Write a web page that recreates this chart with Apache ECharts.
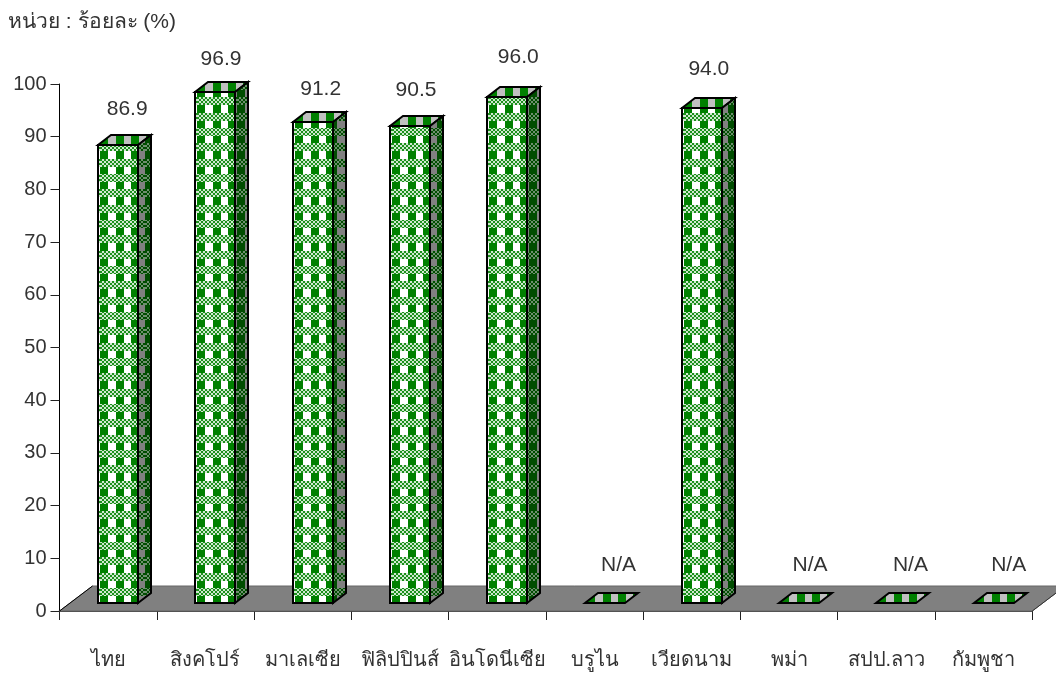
<!DOCTYPE html>
<html><head><meta charset="utf-8">
<style>html,body{margin:0;padding:0;background:#fff}#c{width:1056px;height:673px}</style>
<script src="https://cdn.jsdelivr.net/npm/echarts@6/dist/echarts.min.js"></script>
</head><body><div id="c"></div>
<script>
const categories = ['ไทย','สิงคโปร์','มาเลเซีย','ฟิลิปปินส์','อินโดนีเซีย','บรูไน','เวียดนาม','พม่า','สปป.ลาว','กัมพูชา'];
const values = [86.9, 96.9, 91.2, 90.5, 96.0, null, 94.0, null, null, null];
const unitText = 'หน่วย : ร้อยละ (%)';
const yTicks = {min:0,max:100,interval:10};

const FONT = '"Liberation Sans", Arial, sans-serif';
// label placement relative to bar
const labelDx = [19,15.6,18,16,21,24,17,21,24,25];
const labelLift = [26,23,23,26,30,28,29,28,28,28];
const DX=13, DY=10, SX=-10, SY=8, BW=40;

function tile(a,b,dotA,dotB,withBand){
  const c=document.createElement('canvas'); c.width=46; c.height=46;
  const g=c.getContext('2d');
  const P=46/3;
  for(let y=0;y<46;y++)for(let x=0;x<46;x++){
    const cx=(x-Math.floor(x/P)*P)<P/2, by=(y-Math.floor(y/P)*P)<P/2;
    let col = cx?a:b;
    if(withBand&&by) col=((Math.floor(x/2)+Math.floor(y/2))%2===0)?dotA:dotB;
    g.fillStyle=col; g.fillRect(x,y,1,1);
  }
  return c;
}
const frontTile=tile('#008000','#ffffff','#1c8f1c','#cfe9cf',true);
const sideTile=tile('#004d00','#808080','#004d00','#6f8f6f',true);
const topTile=tile('#008000','#c0c0c0','','',false);

const chart=echarts.init(document.getElementById('c'),null,{renderer:'canvas'});
chart.setOption({
  animation:false,
  backgroundColor:'#fff',
  grid:{left:59.5,right:23.7,top:84,bottom:62,containLabel:false},
  graphic:[{type:'text',left:8,top:12,style:{text:unitText,fill:'#333',font:'21px '+FONT}}],
  xAxis:{type:'category',data:categories,
    axisLine:{lineStyle:{color:'#000',width:1.5}},
    axisTick:{show:true,length:9,lineStyle:{color:'#222'}},
    axisLabel:{color:'#333',fontSize:20,fontFamily:FONT,margin:39,interval:0}},
  yAxis:{type:'value',min:yTicks.min,max:yTicks.max,interval:yTicks.interval,
    axisLine:{show:true,lineStyle:{color:'#000',width:1}},
    axisTick:{show:true,length:9,lineStyle:{color:'#222'}},
    splitLine:{show:false},
    axisLabel:{color:'#333',fontSize:20,fontFamily:FONT,margin:13}},
  series:[
    {type:'custom',z:1,clip:false,silent:true,data:[[0,0]],encode:{x:0,y:1},
     renderItem(p,api){
       const band=api.size([1,0])[0];
       const l=api.coord([0,0]); const r=api.coord([categories.length-1,0]);
       const x0=l[0]-band/2,x1=r[0]+band/2,y=l[1];
       return {type:'group',children:[
         {type:'polygon',shape:{points:[[x0,y],[x0+33,y-25],[x1+33,y-25],[x1,y]]},
          style:{fill:'#808080',stroke:'#666',lineWidth:1}},
         {type:'polyline',shape:{points:[[x0+33,y-25],[x0,y]]},style:{fill:null,stroke:'#000',lineWidth:1}},
         {type:'polyline',shape:{points:[[x1,y],[x1+33,y-25]]},style:{fill:null,stroke:'#333',lineWidth:1}}
       ]};
     }},
    {type:'custom',z:3,clip:false,silent:true,
     data:categories.map((c,i)=>[i,values[i]==null?0:values[i]]),encode:{x:0,y:1},
     renderItem(p,api){
       const i=api.value(0), v=api.value(1);
       const pt=api.coord([i,v]), base=api.coord([i,0]);
       const cx=pt[0]-SX;
       const xl=Math.round(cx-BW/2),xr=xl+BW;
       const yb=Math.round(base[1]-SY),yt=Math.round(pt[1]-SY);
       const line={stroke:'#000',lineWidth:2,lineJoin:'miter'};
       const kids=[];
       kids.push({type:'polygon',shape:{points:[[xl,yt],[xl+DX,yt-DY],[xr+DX,yt-DY],[xr,yt]]},
         style:Object.assign({fill:{image:topTile,repeat:'repeat',x:xl+2,y:0}},line)});
       if(v>0){
         kids.push({type:'polygon',shape:{points:[[xr,yt],[xr+DX,yt-DY],[xr+DX,yb-DY],[xr,yb]]},
           style:Object.assign({fill:{image:sideTile,repeat:'repeat',x:145,y:yb}},line)});
         kids.push({type:'rect',shape:{x:xl,y:yt,width:BW,height:yb-yt},
           style:Object.assign({fill:{image:frontTile,repeat:'repeat',x:xl+2,y:yb}},line)});
       }
       const txt=values[i]==null?'N/A':values[i].toFixed(1);
       kids.push({type:'text',x:pt[0]+labelDx[i],y:yt-DY-labelLift[i],
         style:{text:txt,fill:'#333',font:'21px '+FONT,align:'center',verticalAlign:'middle'}});
       return {type:'group',children:kids};
     }}
  ]
});
</script></body></html>
